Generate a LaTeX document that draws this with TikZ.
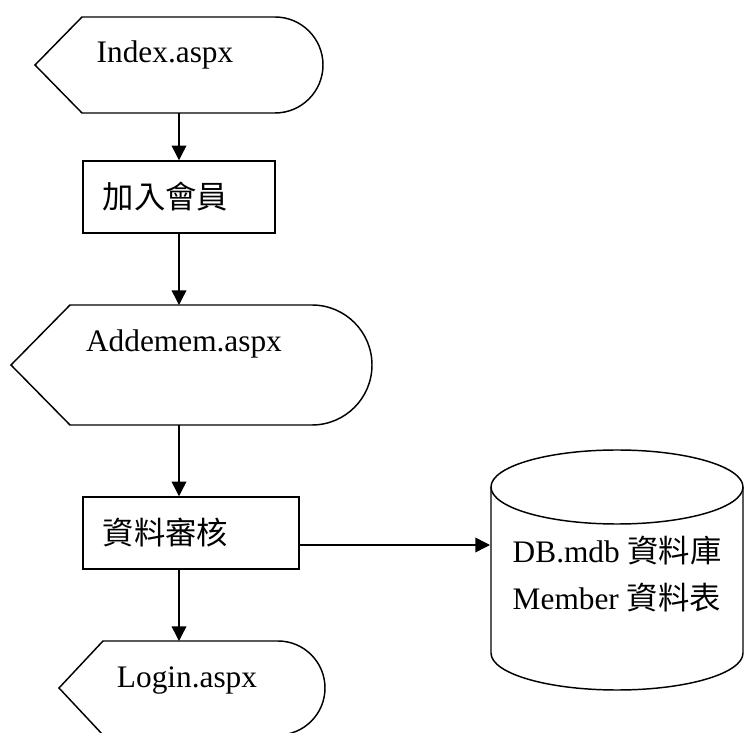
\documentclass[tikz,border=0pt]{standalone}
\usepackage{fontspec}
\setmainfont{Liberation Serif}
\newfontfamily\cjk{Noto Sans CJK TC}
\usetikzlibrary{calc}
\usetikzlibrary{arrows.meta}

\begin{document}
\begin{tikzpicture}[x=0.75pt,y=0.75pt,line width=1.1pt]
        \tikzset{txt/.style={inner sep=0pt,font=\fontsize{23.5pt}{35pt}\selectfont},
                 procbox/.style={draw,align=left,inner xsep=15pt,inner ysep=0pt,minimum height=54pt,font=\fontsize{23.5pt}{35pt}\selectfont\cjk},
                 flow/.style={-{Triangle[length=11pt,width=11pt]}}}
        \useasboundingbox (0,0) rectangle (744,733);

        \coordinate (index_top) at (82,716);
        \coordinate (index_out) at (179,620);
        \coordinate (add_top) at (70,428);
        \coordinate (add_in) at (179,428);
        \coordinate (add_out) at (179,308);
        \coordinate (login_top) at (103,92);
        \coordinate (login_in) at (179,92);
        \coordinate (db_top) at (617,246);
        \coordinate (db_bot) at (617,80);
        \coordinate (db_in) at (490,188);

        %pages
        \draw (index_top) -- ++(193,0) arc[start angle=90,end angle=-90,radius=48] -- ++(-193,0) -- ++(-47,48) -- cycle;
        \node[txt,anchor=base] (index) at (165,670) {Index.aspx};

        \draw (add_top) -- ++(242,0) arc[start angle=90,end angle=-90,radius=60] -- ++(-242,0) -- ++(-59,60) -- cycle;
        \node[txt,anchor=base] (addemem) at (184,381) {Addemem.aspx};

        \draw (login_top) -- ++(175,0) arc[start angle=90,end angle=-90,radius=47] -- ++(-175,0) -- ++(-44,47) -- cycle;
        \node[txt,anchor=base] (login) at (187,45) {Login.aspx};

        %steps
        \node[procbox,text width=114pt] (join) at (179,536) {加入會員};
        \node[procbox,text width=132pt] (chk) at (191,200) {資料審核};

        %database
        \draw (db_top) ellipse [x radius=126,y radius=37];
        \draw ($(db_top)+(-126,0)$) -- ($(db_bot)+(-126,0)$) arc[start angle=180,end angle=360,x radius=126,y radius=37] -- ($(db_top)+(126,0)$);
        \node[txt,anchor=base west] (dbname) at (512,170) {DB.mdb {\cjk 資料庫}};
        \node[txt,anchor=base west] (tblname) at (512,123) {Member {\cjk 資料表}};

        %flow
        \draw[flow] (index_out) -- (join);
        \draw[flow] (join) -- (add_in);
        \draw[flow] (add_out) -- (add_out |- chk.north);
        \draw[flow] (chk.east |- db_in) -- (db_in);
        \draw[flow] (chk.south -| login_in) -- (login_in);
\end{tikzpicture}
\end{document}
